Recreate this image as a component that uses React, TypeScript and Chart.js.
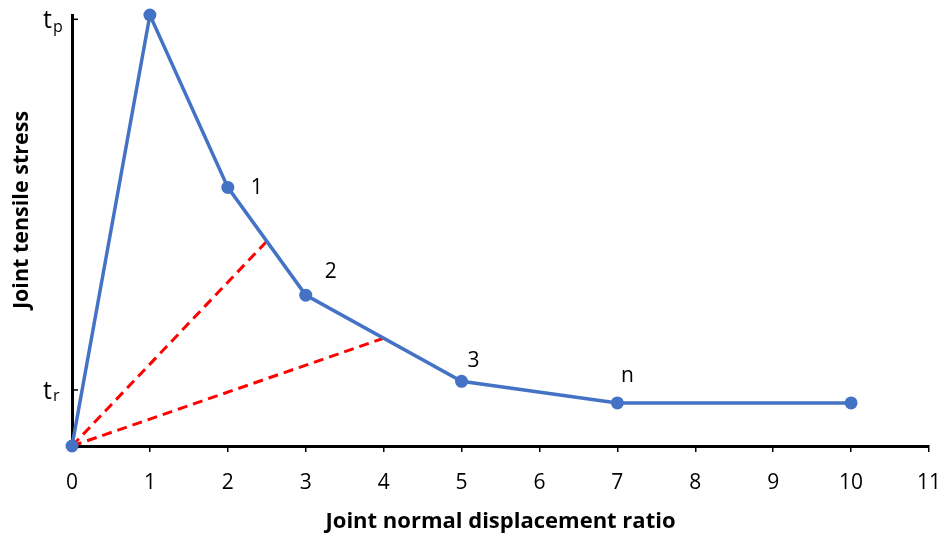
import React, { useEffect, useRef } from "react";
import { Chart, registerables } from "chart.js";

Chart.register(...registerables);

const xValues = [0, 1, 2, 3, 5, 7, 10];
const stressValues = [0, 100, 60, 35, 15, 10, 10];
const pointLabels = ["", "", "1", "2", "3", "n", ""];
const secant1 = [
  { x: 0, y: 0 },
  { x: 2.5, y: 47.5 },
];
const secant2 = [
  { x: 0, y: 0 },
  { x: 4, y: 25 },
];
const yTickValues = [99, 13];
const yTickMain = ["t", "t"];
const yTickSub = ["p", "r"];
const xTitle = "Joint normal displacement ratio";
const yTitle = "Joint tensile stress";

const FONT = "'Open Sans', 'Liberation Sans', sans-serif";

const labelOffsets: Record<string, [number, number]> = {
  "1": [29, 1],
  "2": [25, -23],
  "3": [12, -20],
  n: [10, -27],
};

const annotations = {
  id: "annotations",
  afterDraw(chart: any) {
    const ctx = chart.ctx;
    const xs = chart.scales.x;
    const ys = chart.scales.y;
    ctx.save();
    // y axis title
    ctx.save();
    ctx.translate(22, 210);
    ctx.rotate(-Math.PI / 2);
    ctx.font = `bold 21.5px ${FONT}`;
    ctx.fillStyle = "#000";
    ctx.textAlign = "center";
    ctx.textBaseline = "middle";
    ctx.fillText(yTitle, 0, 0);
    ctx.restore();
    yTickValues.forEach((v, i) => {
      const py = ys.getPixelForValue(v);
      const ax = chart.chartArea.left;
      ctx.strokeStyle = "#000";
      ctx.lineWidth = 1.5;
      ctx.beginPath();
      ctx.moveTo(ax, py);
      ctx.lineTo(ax + 6, py);
      ctx.stroke();
      ctx.fillStyle = "#000";
      ctx.textBaseline = "alphabetic";
      ctx.textAlign = "left";
      ctx.font = `25px ${FONT}`;
      ctx.fillText(yTickMain[i], 43, py + 9);
      const w = ctx.measureText(yTickMain[i]).width;
      ctx.font = `16px ${FONT}`;
      ctx.fillText(yTickSub[i], 43 + w + 1, py + (yTickSub[i] === "p" ? 13 : 11));
    });
    ctx.font = `21px ${FONT}`;
    ctx.fillStyle = "#000";
    ctx.textAlign = "center";
    ctx.textBaseline = "middle";
    pointLabels.forEach((lab, i) => {
      if (!lab) return;
      const off = labelOffsets[lab];
      const px = xs.getPixelForValue(xValues[i]);
      const py = ys.getPixelForValue(stressValues[i]);
      ctx.fillText(lab, px + off[0], py + off[1]);
    });
    ctx.restore();
  },
};

export default function App() {
  const ref = useRef<HTMLCanvasElement>(null);
  useEffect(() => {
    document.body.style.margin = "0";
    const chart = new Chart(ref.current!, {
      type: "scatter",
      data: {
        datasets: [
          {
            data: secant1,
            showLine: true,
            borderColor: "#FF0000",
            borderWidth: 3,
            borderDash: [10, 6],
            pointRadius: 0,
            clip: false,
            order: 2,
          } as any,
          {
            data: secant2,
            showLine: true,
            borderColor: "#FF0000",
            borderWidth: 3,
            borderDash: [10, 6],
            pointRadius: 0,
            clip: false,
            order: 2,
          } as any,
          {
            data: xValues.map((x, i) => ({ x, y: stressValues[i] })),
            showLine: true,
            borderColor: "#4472C4",
            backgroundColor: "#4472C4",
            borderWidth: 3.5,
            pointRadius: 6.5,
            pointBorderWidth: 0,
            clip: false,
            order: 1,
          } as any,
        ],
      },
      options: {
        animation: false,
        responsive: false,
        layout: { padding: { top: 15, right: 20, left: 0, bottom: 0 } },
        plugins: { legend: { display: false }, tooltip: { enabled: false } },
        scales: {
          x: {
            type: "linear",
            min: 0,
            max: 11,
            ticks: {
              stepSize: 1,
              color: "#000",
              font: { size: 21, family: FONT },
              padding: 18,
            },
            border: { color: "#000", width: 3 },
            grid: {
              drawOnChartArea: false,
              drawTicks: true,
              tickLength: 6,
              color: "#000",
              lineWidth: 1.5,
            },
            title: {
              display: true,
              text: xTitle,
              color: "#000",
              font: { size: 22, weight: "bold", family: FONT },
              padding: { top: 0, bottom: 0 },
            },
            afterFit(scale: any) {
              scale.height = 89;
              scale.paddingRight = 0;
              scale.paddingLeft = 0;
            },
          },
          y: {
            type: "linear",
            min: 0,
            max: 100,
            ticks: { display: false },
            border: { color: "#000", width: 3 },
            grid: { display: false, drawTicks: false },
            title: { display: false, text: yTitle },
            afterFit(scale: any) {
              scale.width = 72;
            },
          },
        },
      } as any,
      plugins: [annotations],
    });
    return () => chart.destroy();
  }, []);
  return <canvas ref={ref} width={949} height={535} style={{ display: "block" }} />;
}
